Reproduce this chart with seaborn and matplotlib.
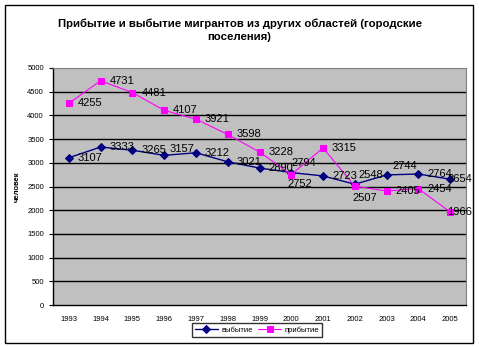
import matplotlib
matplotlib.use("Agg")
import matplotlib.pyplot as plt
import seaborn as sns
import pandas as pd
from matplotlib.patches import Rectangle

years = ["1993", "1994", "1995", "1996", "1997", "1998", "1999", "2000", "2001", "2002", "2003", "2004", "2005"]
vybytie = [3107, 3333, 3265, 3157, 3212, 3021, 2890, 2794, 2723, 2548, 2744, 2764, 2654]
pribytie = [4255, 4731, 4481, 4107, 3921, 3598, 3228, 2752, 3315, 2507, 2405, 2454, 1966]

sns.set_style("white")
plt.rcParams['font.family'] = ['Liberation Sans', 'DejaVu Sans']
plt.rcParams['text.color'] = 'black'
plt.rcParams['axes.labelcolor'] = 'black'
plt.rcParams['xtick.color'] = 'black'
plt.rcParams['ytick.color'] = 'black'

fig = plt.figure(figsize=(4.79, 3.47), dpi=100)
ax = fig.add_axes([53/479, 1-305/347, (466-53)/479, (305-68)/347])
ax.set_facecolor("#C0C0C0")

idx = list(range(len(years)))
df = pd.DataFrame({"x": idx, "выбытие": vybytie, "прибытие": pribytie})

for y in range(500, 5000, 500):
    ax.axhline(y, color="black", lw=1, zorder=1)

sns.lineplot(data=df, x="x", y="выбытие", ax=ax, color="#000080", lw=1,
             marker="D", markersize=4, markeredgecolor="#000080", label="выбытие", zorder=3)
sns.lineplot(data=df, x="x", y="прибытие", ax=ax, color="#FF00FF", lw=0.8,
             marker="s", markersize=4.5, markeredgecolor="#FF00FF", label="прибытие", zorder=3)

# label offsets in pixels (default: right of point)
default_off = (9, 0)
off_v = {3: (5, 6), 7: (0, 10), 9: (4, 9), 10: (6, 9), 12: (-3, 0)}
off_p = {7: (-4, -9), 9: (-2, -12), 12: (-3, 0)}

for i, v in enumerate(vybytie):
    ax.annotate(str(v), (i, v), xytext=off_v.get(i, default_off), textcoords="offset pixels",
                ha="left", va="center", fontsize=8, color="black", zorder=4)
for i, v in enumerate(pribytie):
    ax.annotate(str(v), (i, v), xytext=off_p.get(i, default_off), textcoords="offset pixels",
                ha="left", va="center", fontsize=8, color="black", zorder=4)

ax.set_xlim(-0.5, len(years) - 0.5)
ax.set_ylim(0, 5000)
ax.set_xticks(idx)
ax.set_xticklabels(years, fontsize=5.5)
ax.set_xticks([i - 0.5 for i in range(len(years) + 1)], minor=True)
ax.tick_params(axis="x", which="major", length=0, pad=8)
ax.tick_params(axis="x", which="minor", length=3, width=0.8, color="black", direction="out")
ax.set_yticks(range(0, 5001, 500))
ax.set_yticklabels([str(v) for v in range(0, 5001, 500)], fontsize=5.5)
ax.tick_params(axis="y", length=3, width=0.8, color="black", direction="out", left=True)
ax.set_xlabel("")
ax.set_ylabel("человек", fontsize=5.5, fontweight="bold", labelpad=5)

for s in ["top", "right"]:
    ax.spines[s].set_color("#808080")
    ax.spines[s].set_linewidth(0.8)
for s in ["left", "bottom"]:
    ax.spines[s].set_color("black")
    ax.spines[s].set_linewidth(1)

fig.text(0.5, 1-30/347, "Прибытие и выбытие мигрантов из других областей (городские\nпоселения)",
         ha="center", va="center", fontsize=8.2, fontweight="bold", linespacing=1.35, color="black")

leg = ax.legend(loc="center", bbox_to_anchor=(257/479, 1-330/347), bbox_transform=fig.transFigure,
                ncol=2, fontsize=5.5, frameon=True, fancybox=False, edgecolor="black",
                handlelength=3, handletextpad=0.4, columnspacing=0.8, borderpad=0.4)
leg.get_frame().set_linewidth(1)

fig.patches.append(Rectangle((5/479, 1-343/347), (473-5)/479, (343-5)/347,
                             transform=fig.transFigure, fill=False, edgecolor="black", lw=1))

fig.savefig("out.png", dpi=100)
